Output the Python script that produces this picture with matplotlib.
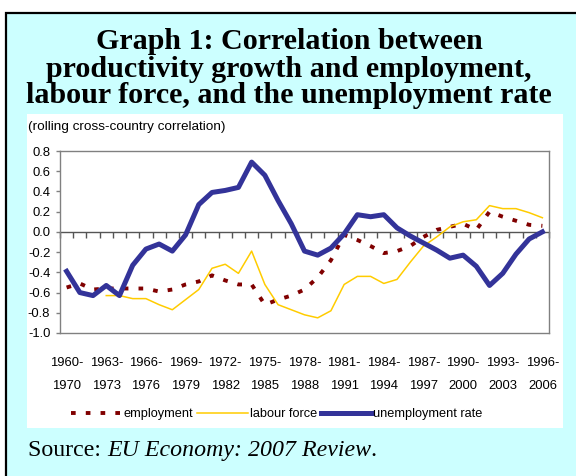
import numpy as np
import matplotlib
matplotlib.use('Agg')
import matplotlib.pyplot as plt
from matplotlib.patches import Rectangle
from matplotlib import font_manager

# ---------------- data ----------------
start_years = [1960, 1961, 1962, 1963, 1964, 1965, 1966, 1967, 1968, 1969,
               1970, 1971, 1972, 1973, 1974, 1975, 1976, 1977, 1978, 1979,
               1980, 1981, 1982, 1983, 1984, 1985, 1986, 1987, 1988, 1989,
               1990, 1991, 1992, 1993, 1994, 1995, 1996]

tick_labels = ["1960-\n1970", "1963-\n1973", "1966-\n1976", "1969-\n1979",
               "1972-\n1982", "1975-\n1985", "1978-\n1988", "1981-\n1991",
               "1984-\n1994", "1987-\n1997", "1990-\n2000", "1993-\n2003",
               "1996-\n2006"]
tick_label_years = [1960, 1963, 1966, 1969, 1972, 1975, 1978, 1981, 1984,
                    1987, 1990, 1993, 1996]

employment = [-0.55, -0.51, -0.57, -0.56, -0.56, -0.56, -0.56, -0.59, -0.57,
              -0.52, -0.49, -0.43, -0.48, -0.52, -0.52, -0.72, -0.67, -0.63,
              -0.57, -0.45, -0.28, -0.03, -0.08, -0.14, -0.21, -0.19, -0.14,
              -0.05, 0.02, 0.05, 0.08, 0.02, 0.20, 0.15, 0.11, 0.07, 0.06]

labour_force = [np.nan, np.nan, np.nan, -0.63, -0.63, -0.66, -0.66, -0.72,
                -0.77, -0.67, -0.57, -0.36, -0.32, -0.41, -0.19, -0.52, -0.72,
                -0.77, -0.82, -0.85, -0.78, -0.52, -0.44, -0.44, -0.51, -0.47,
                -0.30, -0.14, -0.05, 0.05, 0.10, 0.12, 0.26, 0.23, 0.23, 0.19,
                0.14]

unemployment_rate = [-0.39, -0.60, -0.63, -0.53, -0.63, -0.33, -0.17, -0.12,
                     -0.19, -0.03, 0.27, 0.39, 0.41, 0.44, 0.69, 0.56, 0.31,
                     0.08, -0.19, -0.23, -0.16, -0.02, 0.17, 0.15, 0.17, 0.04,
                     -0.04, -0.11, -0.18, -0.26, -0.23, -0.34, -0.53, -0.41,
                     -0.22, -0.07, 0.00]

y_ticks = [-1.0, -0.8, -0.6, -0.4, -0.2, 0.0, 0.2, 0.4, 0.6, 0.8]

# ---------------- fonts ----------------
names = {f.name for f in font_manager.fontManager.ttflist}
if 'Liberation Sans Narrow' in names:
    chart_font = ['Liberation Sans Narrow', 'Liberation Sans', 'DejaVu Sans']
    tick_fs, legend_fs = 11.0, 11.0
else:
    chart_font = ['Liberation Sans', 'DejaVu Sans']
    tick_fs, legend_fs = 9.4, 9.2
serif = ['Liberation Serif', 'DejaVu Serif']

# ---------------- figure ----------------
W, H = 576, 476
fig = plt.figure(figsize=(W / 100, H / 100), dpi=100)
fig.patch.set_facecolor('white')


def fx(px):
    return px / W


def fy(py):
    return 1 - py / H


# cyan framed box
fig.patches.append(Rectangle((fx(6), fy(490)), (620 - 6) / W, (490 - 13) / H,
                             transform=fig.transFigure, facecolor='#CCFFFF',
                             edgecolor='black', linewidth=1.6, zorder=-3))
# white chart panel
fig.patches.append(Rectangle((fx(27), fy(428)), (563 - 27) / W, (428 - 114) / H,
                             transform=fig.transFigure, facecolor='white',
                             edgecolor='none', zorder=-2))

# title (three centred lines)
title_lines = ["Graph 1: Correlation between",
               "productivity growth and employment,",
               "labour force, and the unemployment rate"]
for line, base in zip(title_lines, [49, 77, 103]):
    fig.text(fx(289), fy(base), line, ha='center', va='baseline',
             family=serif, fontweight='bold', fontsize=21.6, color='black')

# subtitle
fig.text(fx(28), fy(127), "(rolling cross-country correlation)", ha='left',
         va='center', family=['Liberation Sans', 'DejaVu Sans'], fontsize=9.7)

# source
src = fig.text(fx(28), fy(456), "Source: ", ha='left', va='baseline',
               family=serif, fontsize=17.2)
fig.canvas.draw()
r = fig.canvas.get_renderer()
bb = src.get_window_extent(r)
src2 = fig.text(bb.x1 / W, fy(456), "EU Economy: 2007 Review", ha='left',
                va='baseline', family=serif, fontstyle='italic', fontsize=17.2)
bb2 = src2.get_window_extent(r)
fig.text(bb2.x1 / W, fy(456), ".", ha='left', va='baseline', family=serif,
         fontsize=17.2)

# axes
ax = fig.add_axes([fx(60), fy(333), (549 - 60) / W, (333 - 151) / H])
ax.set_facecolor('white')
x = np.arange(len(start_years))

l_emp, = ax.plot(x, employment, color='#800000', linewidth=2.8,
                 dashes=(1.2, 2.6), solid_capstyle='butt',
                 dash_capstyle='butt', zorder=3)
l_lab, = ax.plot(x, labour_force, color='#FFCC00', linewidth=1.1,
                 solid_joinstyle='round', zorder=4)
l_une, = ax.plot(x, unemployment_rate, color='#333399', linewidth=3.6,
                 solid_joinstyle='round', zorder=5)

ax.set_xlim(-0.5, len(start_years) - 0.5)
ax.set_ylim(-1.0, 0.8)

for s in ['top', 'right', 'left']:
    ax.spines[s].set_color('#808080')
    ax.spines[s].set_linewidth(1.0)
ax.spines['bottom'].set_position(('data', 0))
ax.spines['bottom'].set_color('#555555')
ax.spines['bottom'].set_linewidth(1.0)
ax.spines['bottom'].set_zorder(2)

ax.set_xticks(np.arange(-0.5, len(start_years), 1.0))
ax.tick_params(axis='x', direction='out', length=4, width=1.0,
               color='#555555', labelbottom=False)

ax.set_yticks(y_ticks)
ax.set_yticklabels([f"{v:.1f}" for v in y_ticks])
ax.tick_params(axis='y', direction='out', length=3, width=1.0,
               color='#808080', pad=4, labelsize=tick_fs)
for t in ax.get_yticklabels():
    t.set_family(chart_font)

sec = ax.secondary_xaxis('bottom')
pos = [start_years.index(yv) for yv in tick_label_years]
sec.set_xticks(pos)
sec.set_xticklabels(tick_labels, linespacing=2.3)
sec.tick_params(length=0, pad=17, labelsize=tick_fs)
for t in sec.get_xticklabels():
    t.set_family(chart_font)
sec.spines['bottom'].set_color('#808080')
sec.spines['bottom'].set_linewidth(1.0)

leg = fig.legend([l_emp, l_lab, l_une],
                 ['employment', 'labour force', 'unemployment rate'],
                 loc='center', bbox_to_anchor=(fx(277), fy(414)), ncol=3,
                 frameon=False, handlelength=4.0, handletextpad=0.1,
                 columnspacing=0.3, prop={'family': chart_font,
                                          'size': legend_fs})

fig.savefig('out.png', dpi=100)
